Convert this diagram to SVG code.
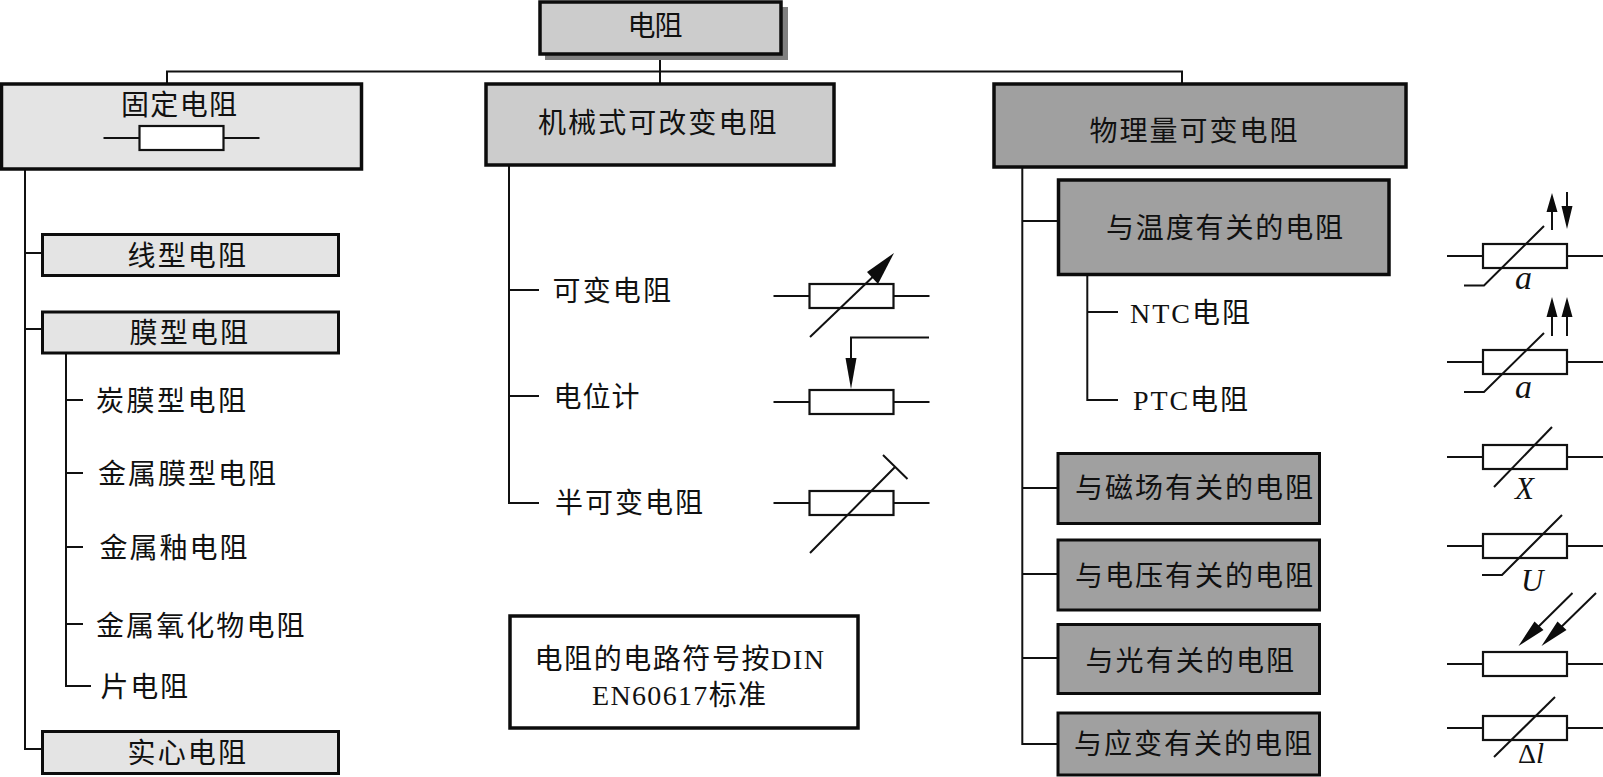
<svg xmlns="http://www.w3.org/2000/svg" width="1603" height="777" viewBox="0 0 1603 777">
<style>
text{font-family:"Liberation Serif","Noto Sans CJK SC",serif;font-size:28px;fill:#111}
.i{font-style:italic;font-size:27px}
.b{stroke:#0c0c0c;stroke-width:3}
.b2{stroke:#0c0c0c;stroke-width:3.500}
.l1{fill:#e4e4e4}.l2{fill:#cccccc}.l3{fill:#a0a0a0}.w{fill:#fff}
.c{fill:none;stroke:#111;stroke-width:2}
.r{fill:#fff;stroke:#111;stroke-width:2.200}
.s{fill:none;stroke:#111;stroke-width:2}
.h{fill:#0c0c0c;stroke:none}
</style>
<defs>
<g id="res"><path class="s" d="M-36 12H0M84 12H120"/><rect class="r" width="84" height="24"/></g>
</defs>
<g id="connectors">
<path class="c" d="M167 83V71.500H1182V83M660 54V83"/>
<path class="c" d="M25 170V749H42M25 253H42M25 329H42"/>
<path class="c" d="M66 354V686H91M66 400H83M66 473H83M66 547H83M66 624H83"/>
<path class="c" d="M509 166V503H539M509 290H539M509 396H539"/>
<path class="c" d="M1022.300 168V744H1057M1022.300 221H1057M1022.300 488H1057M1022.300 574H1057M1022.300 658H1057"/>
<path class="c" d="M1087.300 276V400H1118M1087.300 312H1118"/>
</g>
<g id="node-root"><rect x="545" y="7" width="243" height="53" fill="#808080"/><rect class="b2 l2" x="540" y="2" width="241" height="52"/><text x="627.500" y="36" textLength="55">电阻</text></g>
<g id="node-fixed"><rect class="b2 l1" x="1.500" y="84" width="360" height="85"/><text x="121" y="115" textLength="116">固定电阻</text></g>
<g id="node-fixed-symbol"><use href="#res" x="139.500" y="126"/></g>
<g id="node-mech"><rect class="b2 l2" x="486" y="84" width="348" height="81"/><text x="538" y="133" textLength="238.500">机械式可改变电阻</text></g>
<g id="node-phys"><rect class="b2 l3" x="994" y="84" width="412" height="83"/><text x="1089.500" y="141" textLength="208">物理量可变电阻</text></g>
<g id="node-temp"><rect class="b2 l3" x="1058.500" y="180" width="330.500" height="94.500"/><text x="1106" y="238" textLength="237">与温度有关的电阻</text></g>
<g id="node-wire"><rect class="b l1" x="42.500" y="234.500" width="296" height="41"/><text x="127.500" y="266" textLength="118.500">线型电阻</text></g>
<g id="node-film"><rect class="b l1" x="42.500" y="312" width="296" height="41"/><text x="129.500" y="343" textLength="118.500">膜型电阻</text></g>
<g id="node-solid"><rect class="b l1" x="42.500" y="731.500" width="296" height="42"/><text x="127.500" y="763" textLength="118.500">实心电阻</text></g>
<g id="node-carbon"><text x="96" y="411" textLength="150">炭膜型电阻</text></g>
<g id="node-metalfilm"><text x="98" y="484" textLength="178">金属膜型电阻</text></g>
<g id="node-glaze"><text x="99.500" y="558" textLength="148">金属釉电阻</text></g>
<g id="node-oxide"><text x="96" y="636" textLength="208.500">金属氧化物电阻</text></g>
<g id="node-chip"><text x="100.500" y="697" textLength="87.500">片电阻</text></g>
<g id="node-var"><text x="552.500" y="301" textLength="118.500">可变电阻</text></g>
<g id="node-pot"><text x="553.500" y="407" textLength="86">电位计</text></g>
<g id="node-semi"><text x="555" y="513" textLength="148">半可变电阻</text></g>
<g id="node-note"><rect class="b2 w" x="510" y="616" width="348" height="112"/><text x="534.500" y="669" textLength="289.500">电阻的电路符号按DIN</text><text x="592" y="705" textLength="174">EN60617标准</text></g>
<g id="node-ntc"><text x="1130" y="323" textLength="120">NTC电阻</text></g>
<g id="node-ptc"><text x="1133" y="410" textLength="115">PTC电阻</text></g>
<g id="node-mag"><rect class="b l3" x="1058" y="453.500" width="261.500" height="70"/><text x="1075" y="498" textLength="238">与磁场有关的电阻</text></g>
<g id="node-volt"><rect class="b l3" x="1058" y="540" width="261.500" height="70"/><text x="1075" y="586" textLength="238">与电压有关的电阻</text></g>
<g id="node-light"><rect class="b l3" x="1058" y="624.500" width="261.500" height="69"/><text x="1085.500" y="671" textLength="208.500">与光有关的电阻</text></g>
<g id="node-strain"><rect class="b l3" x="1058" y="713" width="261.500" height="62"/><text x="1074" y="754" textLength="238">与应变有关的电阻</text></g>
<g id="sym-var"><use href="#res" x="809.500" y="284"/><path class="s" d="M810 337L880 270"/><path class="h" d="M894 253L878 284L867 272Z"/></g>
<g id="sym-pot"><use href="#res" x="809.500" y="390"/><path class="s" d="M929 337.500H851V362"/><path class="h" d="M851 389L845.500 358H856.500Z"/></g>
<g id="sym-semi"><use href="#res" x="809.500" y="491"/><path class="s" d="M810 553L895 467M883 455L907.500 479"/></g>
<g id="sym-ntc"><use href="#res" x="1483" y="244"/><path class="s" d="M1544 226L1484 285.500H1464M1552 230V205M1567 192V215"/><path class="h" d="M1552 193L1557.500 212H1546.500ZM1567 229L1561.500 206H1572.500Z"/><text class="i" x="1515" y="289" font-size="32" style="font-size:34px">a</text></g>
<g id="sym-ptc"><use href="#res" x="1483" y="350"/><path class="s" d="M1544 333L1484 392H1464M1552 336V310M1567 336V310"/><path class="h" d="M1552 297L1557.500 317H1546.500ZM1567 297L1572.500 317H1561.500Z"/><text class="i" x="1515" y="398" style="font-size:34px">a</text></g>
<g id="sym-mag"><use href="#res" x="1483" y="445"/><path class="s" d="M1494 487L1552 427"/><text class="i" x="1515" y="499" style="font-size:31px">X</text></g>
<g id="sym-volt"><use href="#res" x="1483" y="534"/><path class="s" d="M1562 515L1502 575H1482"/><text class="i" x="1521" y="591" style="font-size:31px">U</text></g>
<g id="sym-light"><use href="#res" x="1483" y="652"/><path class="s" d="M1572.500 593L1530 635M1596 593L1553 635"/><path class="h" d="M1518.500 646L1534.500 621.500L1543.500 630ZM1541.500 646L1557.500 621.500L1566.500 630Z"/></g>
<g id="sym-strain"><use href="#res" x="1483" y="716"/><path class="s" d="M1494 757L1555 697"/><text x="1518" y="763">Δ<tspan class="i" style="font-size:29px">l</tspan></text></g>
</svg>
